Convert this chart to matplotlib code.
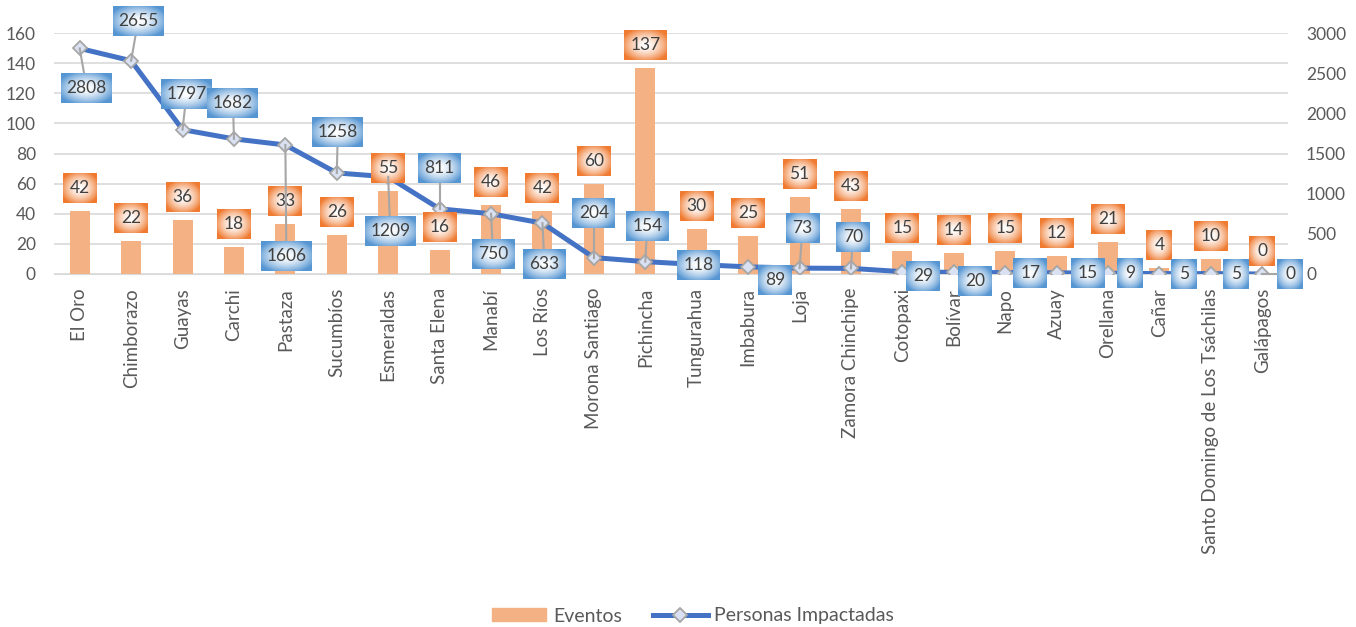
import numpy as np
import matplotlib
matplotlib.use("Agg")
import matplotlib.pyplot as plt
from matplotlib.lines import Line2D
from matplotlib.patches import Patch

plt.rcParams['font.family'] = ['Lato', 'DejaVu Sans']

provincias = ['El Oro', 'Chimborazo', 'Guayas', 'Carchi', 'Pastaza', 'Sucumbíos',
              'Esmeraldas', 'Santa Elena', 'Manabí', 'Los Ríos', 'Morona Santiago',
              'Pichincha', 'Tungurahua', 'Imbabura', 'Loja', 'Zamora Chinchipe',
              'Cotopaxi', 'Bolívar', 'Napo', 'Azuay', 'Orellana', 'Cañar',
              'Santo Domingo de Los Tsáchilas', 'Galápagos']
eventos = [42, 22, 36, 18, 33, 26, 55, 16, 46, 42, 60, 137, 30, 25, 51, 43,
           15, 14, 15, 12, 21, 4, 10, 0]
personas = [2808, 2655, 1797, 1682, 1606, 1258, 1209, 811, 750, 633, 204, 154,
            118, 89, 73, 70, 29, 20, 17, 15, 9, 5, 5, 0]

# where the blue labels sit relative to their point (pixels, x right / y up)
label_offsets = [(7, -40), (7, 40), (4, 36), (-1, 36), (1, -111), (1, 41),
                 (2, -54), (0, 41), (2, -40), (2, -41), (0, 45), (2, 36),
                 (2, 0), (27, -13), (3, 40), (2, 31), (21, -4), (21, -9),
                 (25, 0), (31, 0), (22, 0), (25, 0), (25, 0), (28, 0)]

W, H = 1356, 627
GREY = '#595959'
fig = plt.figure(figsize=(W / 100, H / 100), dpi=100)
ax = fig.add_axes([54 / W, (H - 274) / H, 1234 / W, 241 / H])
ax2 = ax.twinx()

x = np.arange(len(provincias))
ax.bar(x, eventos, width=0.39, color='#F4B183', zorder=2)
ax.set_ylim(0, 160)
ax.set_yticks(range(0, 161, 20))
ax.set_xlim(-0.5, len(provincias) - 0.5)
ax.set_xticks(x)
ax.set_xticklabels(provincias, rotation=90, fontsize=13.5, color=GREY)
ax.grid(axis='y', color='#D9D9D9', lw=1.2, zorder=0)
ax.set_axisbelow(True)

ax2.plot(x, personas, color='#4472C4', lw=3.6, marker='D', ms=7,
         mfc='#D9E1F2', mec='#A6A6A6', mew=1.3, zorder=3)
ax2.set_ylim(0, 3000)
ax2.set_yticks(range(0, 3001, 500))

for a in (ax, ax2):
    for s in a.spines.values():
        s.set_visible(False)
    a.tick_params(length=0, labelsize=12.5, labelcolor=GREY)
ax.spines['bottom'].set_visible(True)
ax.spines['bottom'].set_color('#D9D9D9')
ax.tick_params(axis='y', pad=13)
ax2.tick_params(axis='y', pad=13)
ax.tick_params(axis='x', pad=10, labelsize=13.5)


def box_image(w, h, edge):
    # radial fill: white in the middle, series colour towards the edges
    u = np.linspace(-1, 1, w)[None, :]
    v = np.linspace(-1, 1, h)[:, None]
    t = np.clip(np.sqrt(u ** 2 + v ** 2) / 1.2, 0, 1) ** 1.6
    centre = np.array([1.0, 1.0, 1.0])
    edge = np.array(matplotlib.colors.to_rgb(edge))
    img = centre * (1 - t[..., None]) + edge * t[..., None]
    return np.dstack([img, np.ones((h, w))])


def put_label(cx, cy, text, edge, z):
    w = int(round(17 + 8.6 * len(text)))
    h = 30
    fig.figimage(box_image(w, h, edge), xo=int(round(cx - w / 2)),
                 yo=int(round(cy - h / 2)), zorder=z)
    fig.text(cx / W, cy / H, text, ha='center', va='center', fontsize=12.5,
             color='#404040', zorder=z + 1)


# orange labels above the bars
bar_tops = ax.transData.transform(np.column_stack([x, eventos]))
for (bx, by), v in zip(bar_tops, eventos):
    put_label(bx, by + 23, str(v), '#EF7A30', 5)

# blue labels with leader lines
pts = ax2.transData.transform(np.column_stack([x, personas]))
for (px, py), v, (dx, dy) in zip(pts, personas, label_offsets):
    cx, cy = px + dx, py + dy
    w = 17 + 8.6 * len(str(v))
    gap_x = abs(dx) - w / 2
    gap_y = abs(dy) - 15
    if max(gap_x, gap_y) > 14:
        fig.add_artist(Line2D([px / W, cx / W], [py / H, cy / H],
                              color='#A6A6A6', lw=1.5, zorder=7))
    put_label(cx, cy, str(v), '#5595D2', 8)

handles = [Patch(color='#F4B183'),
           Line2D([], [], color='#4472C4', lw=3.6, marker='D', ms=7,
                  mfc='#D9E1F2', mec='#A6A6A6', mew=1.3)]
fig.legend(handles, ['Eventos', 'Personas Impactadas'], loc='center',
           bbox_to_anchor=(693 / W, 1 - 616 / H), ncol=2, frameon=False,
           fontsize=14, labelcolor=GREY, handlelength=2.8, handleheight=0.6,
           handletextpad=0.35, columnspacing=1.6)

fig.savefig('out.png', dpi=100)
